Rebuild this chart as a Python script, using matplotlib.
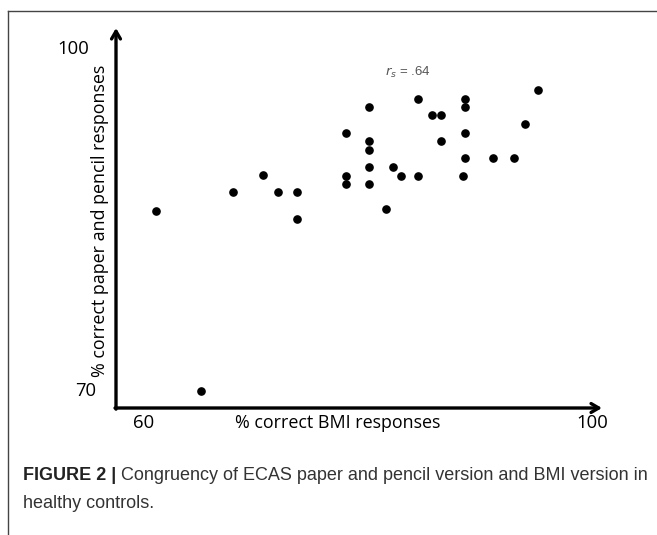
import matplotlib
matplotlib.use('Agg')
import matplotlib.pyplot as plt
from matplotlib.lines import Line2D

# % correct BMI responses (x) and paper-and-pencil responses (y), healthy controls
bmi_pct = [60.5, 67.5, 70.2, 71.6, 73.3, 73.3, 79.8, 84.2, 85.5, 86.3, 88.5,
           88.5, 77.7, 79.8, 79.8, 88.5, 86.3, 79.8, 82.0, 82.7, 84.2, 77.7,
           77.7, 79.8, 88.5, 88.3, 81.3, 95.1, 93.9, 91.0, 92.9, 64.6]
paper_pct = [85.8, 87.4, 88.9, 87.4, 87.4, 85.1, 94.9, 95.6, 94.2, 94.2, 95.6,
             94.9, 92.6, 91.9, 91.1, 92.6, 91.9, 89.6, 89.6, 88.8, 88.8, 88.8,
             88.1, 88.1, 90.4, 88.8, 85.9, 96.4, 93.4, 90.4, 90.4, 70.0]
x_ticks = [60, 100]
y_ticks = [70, 100]
corr_label = '$r_s$ = .64'
caption_bold = 'FIGURE 2 |'
caption_rest = ' Congruency of ECAS paper and pencil version and BMI version in'
caption_line2 = 'healthy controls.'

W, H = 657, 535
fig = plt.figure(figsize=(W / 100, H / 100), dpi=100)
ax = fig.add_axes([116 / W, (H - 408) / H, (602 - 116) / W, (408 - 28) / H])
ax.set_xlim(56.9, 100.9)
ax.set_ylim(68.5, 101.8)

ax.plot(bmi_pct, paper_pct, 'o', color='black', markersize=5.2, clip_on=False)

for s in ax.spines.values():
    s.set_visible(False)
ax.set_xticks([])
ax.set_yticks([])

# axis arrows
arrow = dict(arrowstyle='->,head_length=0.55,head_width=0.32', lw=2.4, color='black',
             shrinkA=0, shrinkB=0)
ax.annotate('', xy=(1, 0), xytext=(-0.002, 0), xycoords='axes fraction', arrowprops=arrow)
ax.annotate('', xy=(0, 1), xytext=(0, -0.003), xycoords='axes fraction', arrowprops=arrow)

font = 'Open Sans'
# tick labels sit slightly off their values in the original, hence small offsets
x_offsets = [-5, 0]
for t, dx in zip(x_ticks, x_offsets):
    ax.annotate(str(t), xy=(t, 0), xycoords=('data', 'axes fraction'),
                xytext=(dx, -11), textcoords='offset points', ha='center', va='center',
                fontfamily=font, fontsize=13.3)
y_offsets = [-14, -19]
for t, dx in zip(y_ticks, y_offsets):
    ax.annotate(str(t), xy=(0, t), xycoords=('axes fraction', 'data'),
                xytext=(dx, 0), textcoords='offset points', ha='right', va='center',
                fontfamily=font, fontsize=13.3)

ax.set_xlabel('% correct BMI responses', fontfamily=font, fontsize=12.9, va='center')
ax.xaxis.set_label_coords((338 - 116) / 486, -(423 - 408) / 380)
ax.set_ylabel('% correct paper and pencil responses', fontfamily=font, fontsize=12.9,
              va='center')
ax.yaxis.set_label_coords(-(116 - 100) / 486, (408 - 221) / 380)

ax.text(83.3, 97.9, corr_label, fontsize=9.5, color='#555555', ha='center', va='center',
        fontfamily='Liberation Sans')

# frame lines around the figure panel
fig.add_artist(Line2D([8 / W, 1], [1 - 11 / H, 1 - 11 / H], color='#444444', lw=1))
fig.add_artist(Line2D([8 / W, 8 / W], [1 - 11 / H, 0], color='#444444', lw=1))

# caption
cap_font = 'Liberation Sans'
cap_size = 13.0
t1 = fig.text(23 / W, 1 - 475 / H, caption_bold, fontsize=cap_size, fontweight='bold',
              color='#222222', va='center', fontfamily=cap_font)
fig.canvas.draw()
bb = t1.get_window_extent()
fig.text(bb.x1 / W, 1 - 475 / H, caption_rest, fontsize=cap_size, color='#333333',
         va='center', fontfamily=cap_font)
fig.text(23 / W, 1 - 503 / H, caption_line2, fontsize=cap_size, color='#333333',
         va='center', fontfamily=cap_font)

fig.savefig('out.png', dpi=100)
